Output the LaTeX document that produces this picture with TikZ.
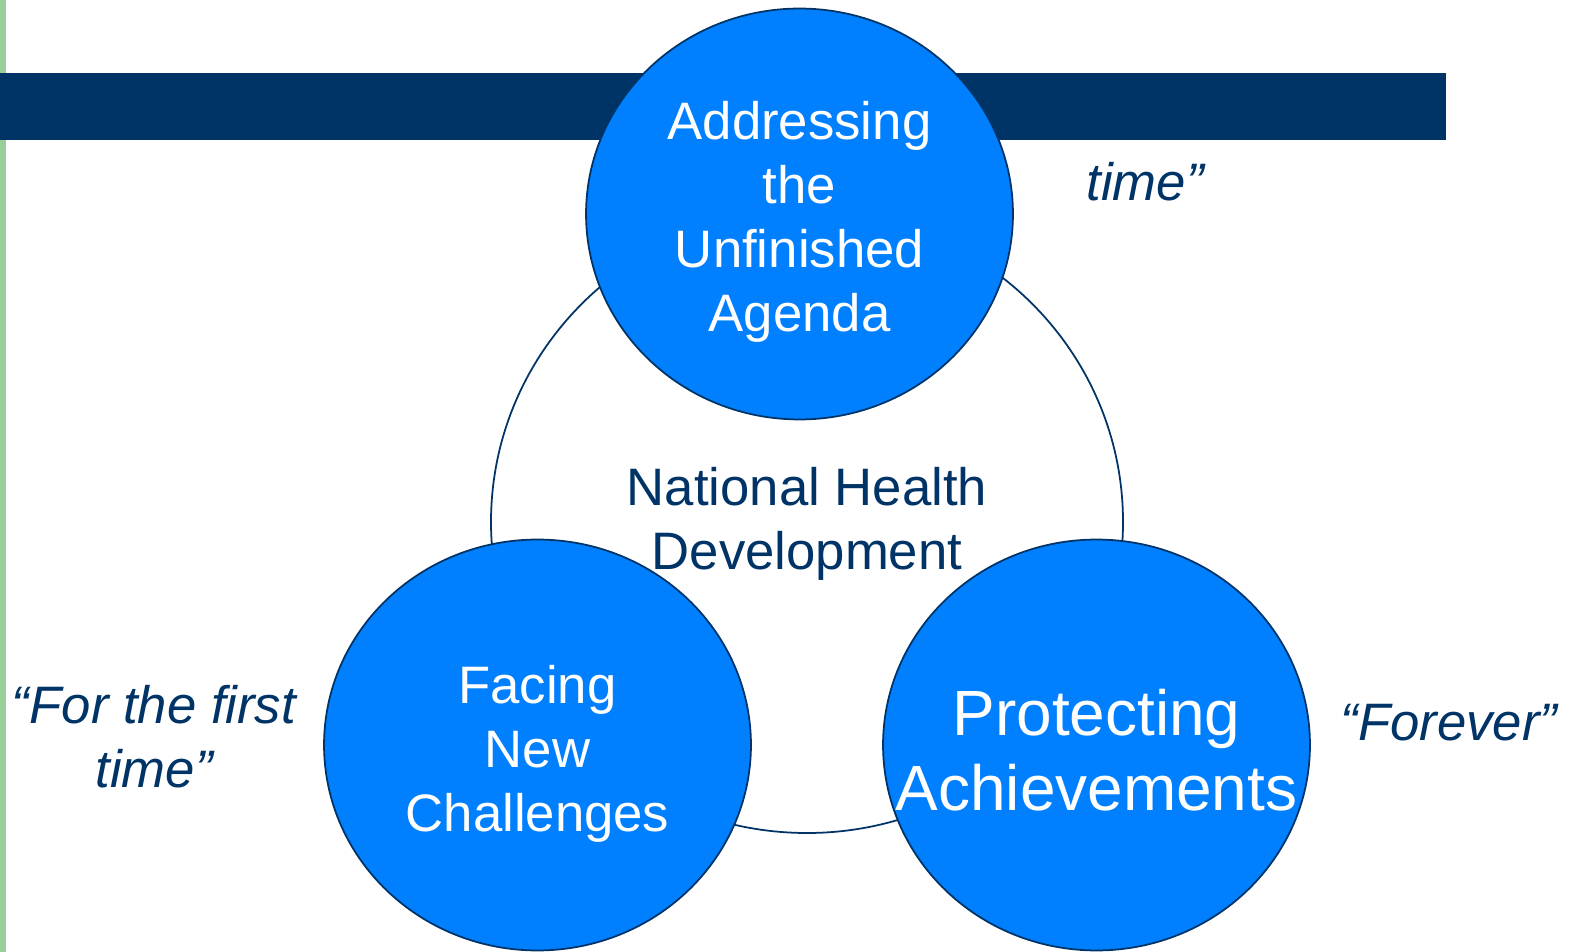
\documentclass[tikz,border=0pt]{standalone}
\usepackage{fontspec}
\setmainfont{Liberation Sans}
\usepackage{tikz}
\usetikzlibrary{shapes.geometric}

\definecolor{navy}{HTML}{003366}
\definecolor{bubble}{HTML}{0080FF}
\definecolor{leaf}{HTML}{9ACF9A}

\tikzset{
	pillar/.style={ellipse, draw=navy, line width=1pt, fill=bubble,
		inner sep=0pt, minimum width=8.54cm, minimum height=8.22cm},
	pillartext/.style={text=white, align=center, font=\fontsize{30}{36.3}\selectfont},
	quote/.style={text=navy, align=center, font=\fontsize{30}{36.3}\selectfont\itshape}
}

\begin{document}
\begin{tikzpicture}[x=0.02cm, y=-0.02cm]
		\useasboundingbox (0, 0) rectangle (1571, 952);

		\fill[leaf] (0, 0) rectangle (6, 952);

		\coordinate (C) at (807, 522);
		\draw[navy, line width=1pt, fill=white] (C) ellipse [x radius=316, y radius=311];

		\fill[navy] (0, 73) rectangle (1446, 140);

		\node[pillar] (agenda) at (799.5, 214) {};
		\node[pillar] (facing) at (537.5, 745) {};
		\node[pillar] (protect) at (1096.5, 745) {};

		\node[pillartext] (agendatext) at (799.5, 222) {Addressing\\the\\Unfinished\\Agenda};
		\node[pillartext] (facingtext) at (537.5, 754) {Facing\\New\\Challenges};
		\node[pillartext, font=\fontsize{36.4}{43}\selectfont] (protecttext) at (1096.5, 750) {Protecting\\Achievements};

		\node[text=navy, align=center, font=\fontsize{30}{36.3}\selectfont] (nhd) at (807, 524) {National Health\\Development};

		\node[quote] (first) at (154, 737) {“For the first\\time”};
		\node[quote] (time) at (1145, 182) {time”};
		\node[quote] (forever) at (1449, 723) {“Forever”};
	\end{tikzpicture}
\end{document}
